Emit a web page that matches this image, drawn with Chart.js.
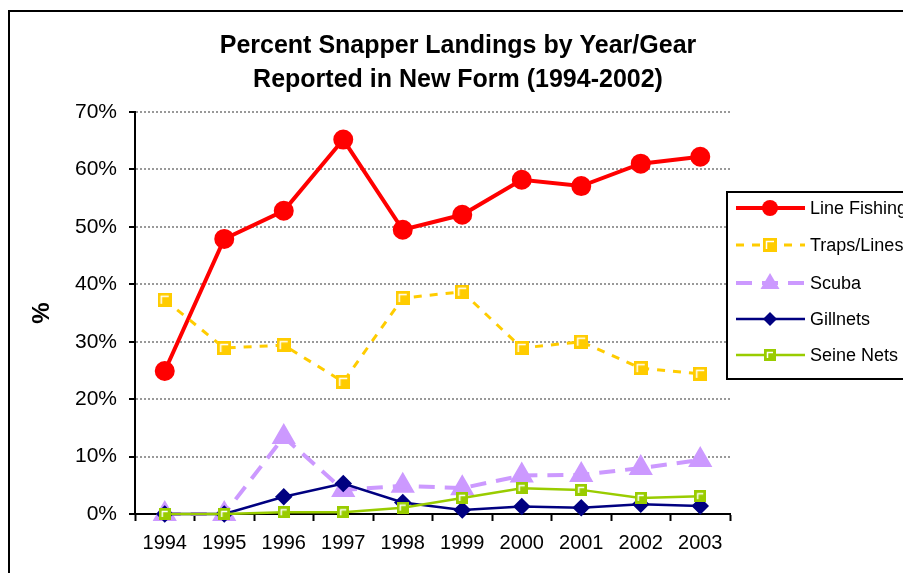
<!DOCTYPE html>
<html>
<head>
<meta charset="utf-8">
<script src="https://cdn.jsdelivr.net/npm/chart.js@4.4.1/dist/chart.umd.min.js"></script>
<style>
  body { margin: 0; background: #fff; }
  canvas { display: block; }
</style>
</head>
<body>
<canvas id="gearChart" width="903" height="573"></canvas>
<script>
const years = ['1994', '1995', '1996', '1997', '1998', '1999', '2000', '2001', '2002', '2003'];
const lineFishing = [24.9, 47.9, 52.8, 65.2, 49.5, 52.1, 58.2, 57.1, 61.0, 62.2];
const trapsLines = [37.3, 28.9, 29.4, 23.0, 37.6, 38.7, 28.9, 30.0, 25.4, 24.4];
const scuba = [0, 0, 13.4, 4.2, 4.9, 4.5, 6.7, 6.8, 8.0, 9.4];
const gillnets = [0, 0, 3.0, 5.3, 2.0, 0.7, 1.3, 1.1, 1.7, 1.4];
const seineNets = [0, 0, 0.3, 0.3, 1.1, 2.8, 4.5, 4.2, 2.8, 3.1];
const titleLines = ['Percent Snapper Landings by Year/Gear', 'Reported in New Form (1994-2002)'];

const FONT = '"Liberation Sans", Arial, sans-serif';

// excel style square marker with a white inner corner
function squareMarker(color, size) {
    const c = document.createElement('canvas');
    c.width = size; c.height = size;
    const g = c.getContext('2d');
    g.fillStyle = color;
    g.fillRect(0, 0, size, size);
    g.strokeStyle = '#fff';
    g.lineWidth = 1.5;
    g.beginPath();
    g.moveTo(3.5, size - 3);
    g.lineTo(3.5, 3.5);
    g.lineTo(size - 3, 3.5);
    g.stroke();
    return c;
}
const trapsMark = squareMarker('#FFCC00', 14);
const seineMark = squareMarker('#99CC00', 12);

const frame = {
    id: 'frame',
    beforeDraw(chart) {
        const ctx = chart.ctx;
        ctx.save();
        ctx.fillStyle = '#fff';
        ctx.fillRect(0, 0, chart.width, chart.height);
        ctx.strokeStyle = '#000';
        ctx.lineWidth = 2;
        ctx.strokeRect(9, 11, 1000, 700);
        ctx.fillStyle = '#000';
        ctx.font = 'bold 25px ' + FONT;
        ctx.textAlign = 'center';
        ctx.textBaseline = 'middle';
        ctx.fillText(titleLines[0], 458, 46);
        ctx.fillText(titleLines[1], 458, 80);
        ctx.restore();
    }
};

function drawMarker(ctx, ds, x, y) {
    const st = ds.pointStyle;
    const r = ds.pointRadius;
    ctx.fillStyle = ds.pointBackgroundColor;
    if (st instanceof HTMLCanvasElement) {
        ctx.drawImage(st, x - st.width / 2, y - st.height / 2);
        return;
    }
    ctx.beginPath();
    if (st === 'circle') {
        ctx.arc(x, y, r, 0, Math.PI * 2);
    } else if (st === 'triangle') {
        ctx.moveTo(x, y - r);
        ctx.lineTo(x + r * 0.95, y + r * 0.6);
        ctx.lineTo(x - r * 0.95, y + r * 0.6);
        ctx.closePath();
    } else if (st === 'rectRot') {
        ctx.moveTo(x, y - r); ctx.lineTo(x + r, y); ctx.lineTo(x, y + r); ctx.lineTo(x - r, y);
        ctx.closePath();
    }
    ctx.fill();
}

const legendBox = {
    id: 'legendBox',
    afterDraw(chart) {
        const ctx = chart.ctx;
        ctx.save();
        ctx.fillStyle = '#fff';
        ctx.fillRect(727, 192, 200, 187);
        ctx.strokeStyle = '#000';
        ctx.lineWidth = 2;
        ctx.strokeRect(727, 192, 200, 187);
        const rows = [208, 245, 283, 319, 355];
        chart.data.datasets.forEach((ds, i) => {
            const y = rows[i];
            ctx.strokeStyle = ds.borderColor;
            ctx.lineWidth = ds.borderWidth;
            ctx.setLineDash(ds.borderDash || []);
            ctx.beginPath();
            ctx.moveTo(736, y);
            ctx.lineTo(805, y);
            ctx.stroke();
            ctx.setLineDash([]);
            drawMarker(ctx, ds, 770, y);
            ctx.fillStyle = '#000';
            ctx.font = '18px ' + FONT;
            ctx.textAlign = 'left';
            ctx.textBaseline = 'middle';
            ctx.fillText(ds.label, 810, y + 1);
        });
        ctx.restore();
    }
};

new Chart(document.getElementById('gearChart'), {
    type: 'line',
    data: {
        labels: years,
        datasets: [
            { label: 'Line Fishing', data: lineFishing, borderColor: '#FF0000', borderWidth: 4,
              pointStyle: 'circle', pointRadius: 8, pointBackgroundColor: '#FF0000', pointBorderColor: '#FF0000', order: 5 },
            { label: 'Traps/Lines', data: trapsLines, borderColor: '#FFCC00', borderWidth: 3, borderDash: [8, 8],
              pointStyle: trapsMark, pointRadius: 7, pointBackgroundColor: '#FFCC00', order: 4 },
            { label: 'Scuba', data: scuba, borderColor: '#CC99FF', borderWidth: 4, borderDash: [16, 10],
              pointStyle: 'triangle', pointRadius: 10, pointBackgroundColor: '#CC99FF', pointBorderColor: '#CC99FF', order: 3 },
            { label: 'Gillnets', data: gillnets, borderColor: '#000080', borderWidth: 2.5,
              pointStyle: 'rectRot', pointRadius: 7, pointBackgroundColor: '#000080', pointBorderColor: '#000080', order: 2 },
            { label: 'Seine Nets', data: seineNets, borderColor: '#99CC00', borderWidth: 2.5,
              pointStyle: seineMark, pointRadius: 6, pointBackgroundColor: '#99CC00', order: 1 }
        ]
    },
    options: {
        responsive: false,
        animation: false,
        layout: { padding: { left: 20, right: 173, top: 112, bottom: 0 } },
        elements: { line: { tension: 0 }, point: { borderWidth: 1 } },
        datasets: { line: { clip: false } },
        plugins: { legend: { display: false }, title: { display: false }, tooltip: { enabled: false } },
        scales: {
            x: {
                offset: true,
                grid: { offset: true, drawOnChartArea: false, tickLength: 7, tickColor: '#000', tickWidth: 2 },
                border: { display: true, color: '#000', width: 2 },
                ticks: { color: '#000', padding: 10, maxRotation: 0, font: { family: FONT, size: 20 } },
                afterFit: (s) => { s.height = 59; }
            },
            y: {
                min: 0, max: 70,
                ticks: { stepSize: 10, color: '#000', padding: 12, font: { family: FONT, size: 21 },
                         callback: (v) => v + '%' },
                grid: { color: '#999', lineWidth: 2, tickLength: 6, tickColor: '#000', tickWidth: 2 },
                border: { display: true, color: '#000', width: 2, dash: [2, 2] },
                title: { display: true, text: '%', color: '#000', padding: 8, font: { family: FONT, size: 24, weight: 'bold' } },
                afterFit: (s) => { s.width = 115; }
            }
        }
    },
    plugins: [frame, legendBox]
});
</script>
</body>
</html>
